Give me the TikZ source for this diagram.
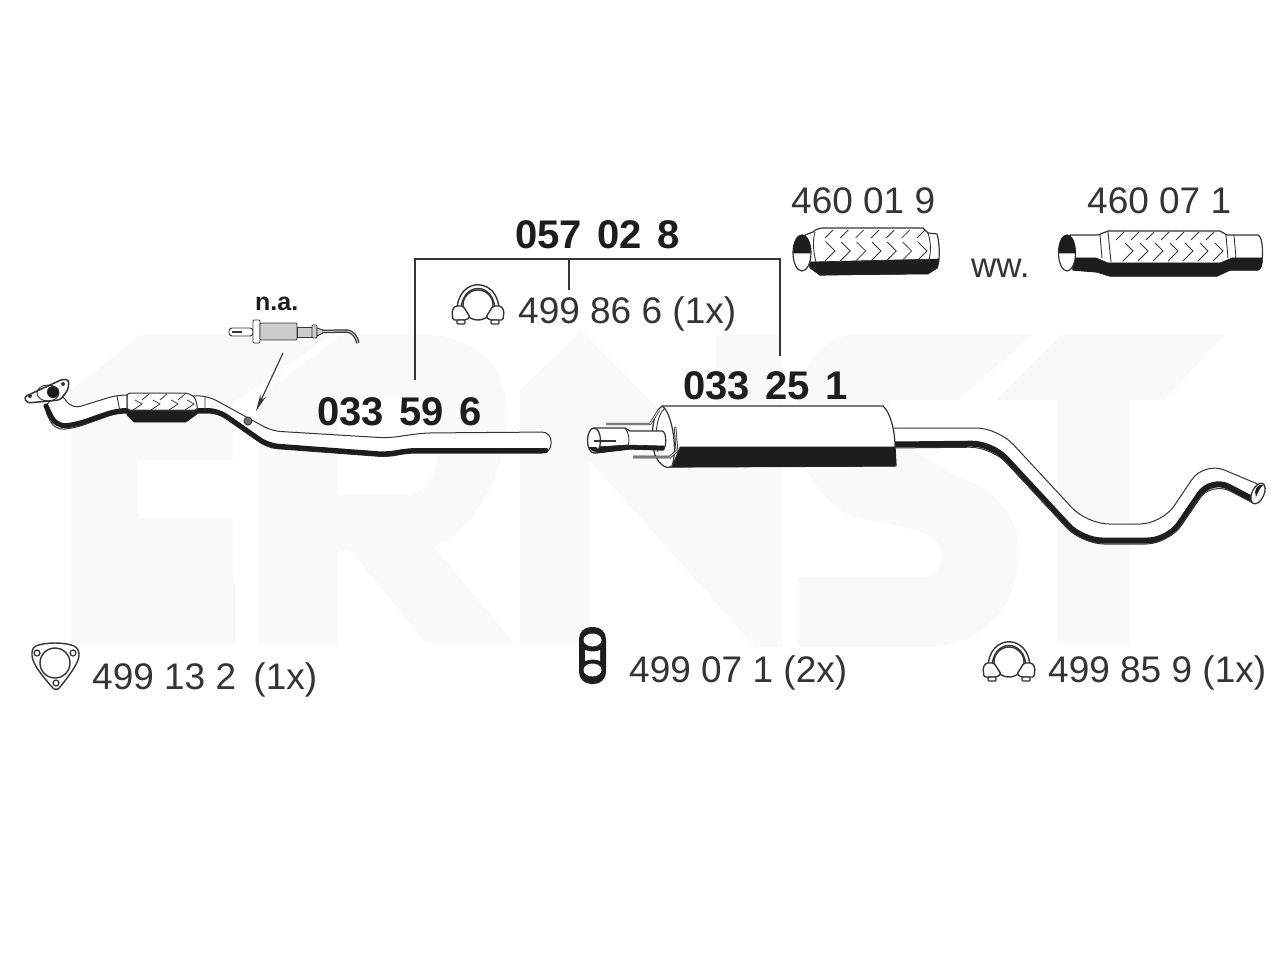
\documentclass[tikz,border=0pt]{standalone}
\usepackage{fontspec}
\setmainfont{Liberation Sans}
\newfontfamily\partbold[WordSpace=1.4]{Liberation Sans Bold}
\usetikzlibrary{arrows.meta,positioning,calc}
\definecolor{inkblack}{HTML}{1E1C1C}
\definecolor{inkline}{HTML}{353333}
\definecolor{markcolor}{HTML}{F9F9F9}
\tikzset{
  partno/.style={inner sep=0pt, anchor=base west, text=inkblack, font=\partbold\fontsize{40}{44}\selectfont},
  itemno/.style={inner sep=0pt, anchor=base west, text=inkline, font=\fontsize{37}{40}\selectfont},
  bracketline/.style={draw=inkline, line width=1.3pt},
  tubeedge/.style={draw=inkline, line width=1pt, fill=white, line join=round},
  thinline/.style={draw=inkline, line width=0.9pt},
  shadeband/.style={draw=inkblack, line width=6pt, line join=round, line cap=round},
  shadefill/.style={fill=inkblack, draw=inkblack, line width=0.6pt, line join=round},
  watermark/.style={fill=markcolor, draw=none},
  pics/clampicon/.style={code={
    \draw[thinline, line width=1.4pt] (-21,8) .. controls (-21,-27) and (21,-27) .. (21,8);
    \draw[thinline, line width=1.4pt] (-17,8) .. controls (-17,-22) and (17,-22) .. (17,8);
    \draw[thinline, line width=1.4pt] (0,2) circle[radius=15];
    \draw[thinline, line width=1.4pt, fill=white, rounded corners=1.5pt] (-26,8) -- (-23,3) -- (-15,3) -- (-8,14) -- (-12,17) -- (-25,17) -- cycle;
    \draw[thinline, line width=1.4pt, fill=white, rounded corners=1.5pt] (26,8) -- (23,3) -- (15,3) -- (8,14) -- (12,17) -- (25,17) -- cycle;
    \draw[thinline, line width=1.4pt, fill=white, rounded corners=1pt] (-21,17) rectangle (-13,21);
    \draw[thinline, line width=1.4pt, fill=white, rounded corners=1pt] (13,17) rectangle (21,21);
  }}
}
\begin{document}
\begin{tikzpicture}[x=1pt, y=-1pt, >=Latex]
  \useasboundingbox (0,0) rectangle (1280,960);
  % faint lettering behind the parts
  \fill[watermark] (71,390) -- (141,335) -- (331,335) -- (233,403) -- (233,460) -- (138,460) -- (138,518) -- (233,518) -- (233,583) -- (138,583) -- (235,583) -- (235,643) -- (71,643) -- cycle;
  \fill[watermark, even odd rule] (258,398) -- (342,335) -- (423,335) .. controls (480,335) and (507,370) .. (507,413) .. controls (507,480) and (470,530) .. (434,547) -- (514,643) -- (426,643) -- (350,550) -- (338,550) -- (338,643) -- (258,643) -- cycle
    (338,398) -- (404,398) .. controls (425,398) and (438,420) .. (438,447) .. controls (438,475) and (425,495) .. (404,495) -- (338,495) -- cycle;
  \fill[watermark] (520,390) -- (581,330) -- (716,467) -- (716,335) -- (782,335) -- (782,647) -- (755,647) -- (589,460) -- (589,643) -- (520,643) -- cycle;
  \fill[watermark] (854,335) -- (1032,335) -- (958,400) -- (890,400) .. controls (880,420) and (890,440) .. (958,477) .. controls (1000,490) and (1019,520) .. (1019,553) .. controls (1019,610) and (980,647) .. (923,647) -- (797,647) -- (797,577) -- (923,577) .. controls (935,577) and (942,565) .. (942,553) .. controls (942,530) and (890,525) .. (854,517) .. controls (820,500) and (797,470) .. (797,420) .. controls (797,370) and (820,335) .. (854,335) -- cycle;
  \fill[watermark] (1061,335) -- (1225,335) -- (1164,400) -- (1130,400) -- (1130,643) -- (1057,643) -- (1057,400) -- (996,400) -- cycle;

  % labels
  \node[partno] (kitlabel) at (515,249) {057 02 8};
  \node[itemno] (flexa) at (791,214) {460 01 9};
  \node[itemno] (flexb) at (1087,214) {460 07 1};
  \node[itemno, font=\fontsize{35}{38}\selectfont] (wwlabel) at (971,277) {ww.};
  \node[itemno] (clampa) at (518,323) {499 86 6 (1x)};
  \node[partno] (frontno) at (317,425) {033 59 6};
  \node[partno] (rearno) at (683,399) {033 25 1};
  \node[itemno] (gasket) at (92,689) {499 13 2\hspace{7pt} (1x)};
  \node[itemno] (hanger) at (629,682) {499 07 1 (2x)};
  \node[itemno] (clampb) at (1048,682) {499 85 9 (1x)};
  \node[inner sep=0pt, anchor=base west, text=inkblack, font=\partbold\fontsize{25}{27}\selectfont] (nalabel) at (255,310) {n.a.};

  % bracket over the two pipes
  \coordinate (kitleft) at (415,380);
  \coordinate (kitright) at (780,356);
  \coordinate (kittop) at (569,259);
  \coordinate (kitstem) at (569,290);
  \draw[bracketline] (kitleft) |- (kittop) -| (kitright);
  \draw[bracketline] (kittop) -- (kitstem);

  % front pipe
  \filldraw[tubeedge, rounded corners=9pt] (60,392) -- (72,409) -- (117,395) -- (208,396) -- (272,431) -- (388,438) -- (423,433) -- (551,432) -- (551,453) -- (407,453) -- (388,457) -- (268,448) -- (218,413) -- (117,413) -- (75,428) -- (55,430) -- (43,407) -- cycle;
  \draw[shadeband, line width=5pt, rounded corners=10pt] (46,406) -- (56,426.5) -- (75,425) -- (117,410.5) -- (218,410.5) -- (268,445.5) -- (388,454.5) -- (407,450.5) -- (546,450.5);
  % braided section of the front pipe
  \fill[shadefill] (127,410) -- (198,410) -- (197,414) -- (186,422) -- (134,422) -- (127,415) -- cycle;
  \draw[tubeedge, rounded corners=3pt] (127,393) -- (187,393) -- (195,397) -- (198,410) -- (127,410) -- cycle;
  \draw[thinline] (117,396) -- (120,412) (127,394) -- (127,410) (205,397) -- (205,410);
  \foreach \wx in {135,153,171,187}
    \draw[thinline, line width=0.8pt] (\wx,400) -- ++(7,4) -- ++(-9,6);
  \foreach \wx in {142,160,178}
    \draw[thinline, line width=0.8pt] (\wx,400) -- ++(7,-6);
  \filldraw[tubeedge, line width=1.5pt, rounded corners=3pt] (24,397) -- (63,379) -- (69,380) -- (68,390) -- (60,400) -- (27,403) -- cycle;
  \draw[thinline] (48,393) ellipse[x radius=11, y radius=8];
  \fill[inkblack] (53,392) ellipse[x radius=6, y radius=6];
  \fill[inkline] (30,396) circle[radius=2] (63,384) circle[radius=2];
  \draw[thinline, fill=inkline!70] (248,421) circle[radius=4];
  \coordinate (bossmark) at (256,411);

  % sensor
  \draw[thinline, fill=white, rounded corners=3pt] (229,328) rectangle (253,336);
  \draw[thinline, line width=1.5pt] (232,332) -- (242,332);
  \draw[thinline, fill=white, rounded corners=1pt] (253,320) rectangle (260,343);
  \draw[thinline, fill=gray!40, rounded corners=1pt] (260,323) rectangle (297,340);
  \draw[thinline, fill=gray!40] (297,327) rectangle (312,337);
  \draw[thinline, fill=gray!40, rounded corners=1pt] (312,325) rectangle (317,338);
  \draw[thinline, fill=gray!40] (317,328) -- (323,330) -- (323,333) -- (317,336) -- cycle;
  \draw[draw=inkline, line width=3.5pt] (323,331.5) -- (345,331) .. controls (353,331) and (356,336) .. (358,343);
  \draw[draw=gray!40, line width=1pt] (323,331.5) -- (345,331) .. controls (353,331) and (356,336) .. (358,343);
  \coordinate (sensormark) at (283,353);
  \draw[-{Stealth[length=17pt,width=6pt]}, thinline, line width=1.1pt] (sensormark) -- (bossmark);

  % rear pipe
  \fill[white, rounded corners=22pt] (890,428) -- (998,428) -- (1087,524) -- (1162,524) -- (1204,461.5) -- (1262,486) -- (1262,525) -- (1211,481) -- (1168,544) -- (1082,544) -- (992,447) -- (890,448) -- cycle;
  \draw[thinline, line width=1pt, rounded corners=22pt] (890,428) -- (998,428) -- (1087,524) -- (1162,524) -- (1204,461.5) -- (1260,485);
  \draw[shadeband, rounded corners=20pt] (895,444.5) -- (992,443.5) -- (1082,540.5) -- (1168,540.5) -- (1211,477.5) -- (1250,498);
  \draw[thinline, line width=1pt, rounded corners=22pt] (1253,503) -- (1211,481) -- (1168,544) -- (1082,544) -- (992,447) -- (890,448);
  \draw[tubeedge, line width=1.3pt] (1258,493.5) ellipse[x radius=6, y radius=11, rotate=-25];
  \fill[inkblack] (1256,497) -- (1255,492) .. controls (1256,486) and (1260,484) .. (1263,485) .. controls (1260,488) and (1258,492) .. (1256,497) -- cycle;

  % silencer
  \draw[tubeedge, line width=1.2pt] (662,406) -- (883,406) .. controls (890,412) and (895,430) .. (895,447) -- (896,466) -- (670,467) -- cycle;
  \fill[shadefill] (680,447) -- (895,447) -- (896,464) .. controls (896,466) and (893,467) .. (891,466) -- (672,467) -- (680,447) -- cycle;
  \draw[tubeedge, line width=1.2pt] (662,406) .. controls (652,412) and (650,440) .. (655,455) .. controls (660,466) and (668,470) .. (672,466) .. controls (678,450) and (672,412) .. (662,406) -- cycle;
  \draw[thinline] (665,408) .. controls (656,415) and (654,440) .. (658,452);
  % inlet tube and hanger straps
  \draw[thinline, line width=2.4pt] (606,424) -- (650,424) -- (659,410);
  \draw[draw=white, line width=0.8pt] (606,424) -- (650,424) -- (659,410);
  \draw[tubeedge, line width=1.2pt] (594,428) -- (625,428) -- (630,431) -- (662,431) .. controls (667,431) and (667,450) .. (662,450) -- (630,449) -- (595,453) -- cycle;
  \fill[shadefill] (597,447) -- (627,445) -- (664,446) -- (664,450) -- (630,449) -- (597,453) -- cycle;
  \draw[thinline] (625,428) .. controls (630,435) and (630,442) .. (627,448);
  \draw[tubeedge, line width=1.3pt] (594,440.5) ellipse[x radius=6.5, y radius=12.5];
  \fill[inkblack] (596,447) -- (589,447) .. controls (591,452) and (596,453) .. (599,450) -- cycle;
  \draw[thinline, line width=1.3pt] (594,441) -- (616,441);
  \draw[thinline, line width=2.6pt] (633,457) -- (670,457) -- (677,451) -- (675,427);
  \draw[draw=white, line width=0.8pt] (633,457) -- (670,457) -- (677,451) -- (675,427);

  % braided connector, short
  \filldraw[tubeedge, line width=1.2pt] (805,235) -- (813,232) .. controls (816,229) and (820,228) .. (823,228) -- (923,228) -- (928,233) -- (937,234) .. controls (940,244) and (940,262) .. (937,268) -- (928,273) -- (820,275) -- (810,267) -- cycle;
  \fill[shadefill] (810,262) -- (939,259) -- (937,268) -- (928,274) -- (820,275) -- (810,268) -- cycle;
  \draw[thinline] (815,232) .. controls (812,242) and (814,255) .. (816,262) (928,233) .. controls (931,242) and (931,252) .. (929,260);
  \foreach \wx in {825,840.3,855.6,871,886.3,901.6,917}
    \draw[thinline, line width=0.8pt] (\wx,238) -- ++(8,-8);
  \foreach \wx in {826,841.3,856.6,872,887.3,902.6,918}
    \draw[thinline, line width=0.8pt] (\wx,242) -- ++(9,9) -- ++(-10,10);
  \draw[tubeedge, line width=1.2pt] (802,253) ellipse[x radius=9, y radius=18];
  \fill[shadefill] (793.5,253) .. controls (793.5,241) and (798,235) .. (802,235) .. controls (806,235) and (810.5,241) .. (810.5,253) -- cycle;

  % braided connector, long
  \filldraw[tubeedge, line width=1.2pt] (1070,235) -- (1098,235) -- (1108,231) -- (1220,231) -- (1227,235) -- (1258,235) .. controls (1264,236) and (1264,269) .. (1258,270) -- (1230,270) -- (1217,276) -- (1110,276) -- (1097,272) -- (1073,270) -- cycle;
  \fill[shadefill] (1073,258) -- (1096,258) -- (1108,263) -- (1220,263) -- (1232,258) -- (1262,258) .. controls (1263,264) and (1261,270) .. (1258,270) -- (1230,270) -- (1217,276) -- (1110,276) -- (1097,272) -- (1073,270) -- cycle;
  \draw[thinline] (1100,235) -- (1102,258) (1108,232) -- (1111,262) (1226,235) -- (1228,258) (1234,235) -- (1236,258);
  \foreach \wx in {1116,1131,1146,1161,1176,1191,1206}
    \draw[thinline, line width=0.8pt] (\wx,240) -- ++(8,-8);
  \foreach \wx in {1125,1140,1155,1170,1185,1200,1215}
    \draw[thinline, line width=0.8pt] (\wx,243) -- ++(8,8) -- ++(-10,10);
  \draw[tubeedge, line width=1.2pt] (1067,253) ellipse[x radius=8.5, y radius=18];
  \fill[shadefill] (1059,253) .. controls (1059,241) and (1063,235) .. (1067,235) .. controls (1071,235) and (1075,241) .. (1075,253) -- cycle;

  % small loose parts
  \pic at (478,303) {clampicon};
  \pic at (1009,660) {clampicon};
  \draw[thinline, line width=1.4pt] plot[smooth cycle, tension=0.6] coordinates {(55,643) (74,646) (79,655) (74,668) (60,687) (56,689) (52,687) (37,668) (32,655) (36,646)};
  \draw[thinline, line width=1.4pt] (55,663) circle[radius=15];
  \foreach \hx/\hy in {37/653, 73/653, 56/683}
    \draw[thinline, line width=1.2pt] (\hx,\hy) circle[radius=3];
  \fill[inkblack, rounded corners=12pt] (579,627) rectangle (606,684);
  \fill[white] (592.5,640) ellipse[x radius=9, y radius=6.5] (592.5,670) ellipse[x radius=9, y radius=6.5];
  \fill[white] (585,650) .. controls (590,652) and (596,652) .. (600,650) -- (600,661) .. controls (596,659) and (590,659) .. (585,661) -- cycle;
\end{tikzpicture}
\end{document}
